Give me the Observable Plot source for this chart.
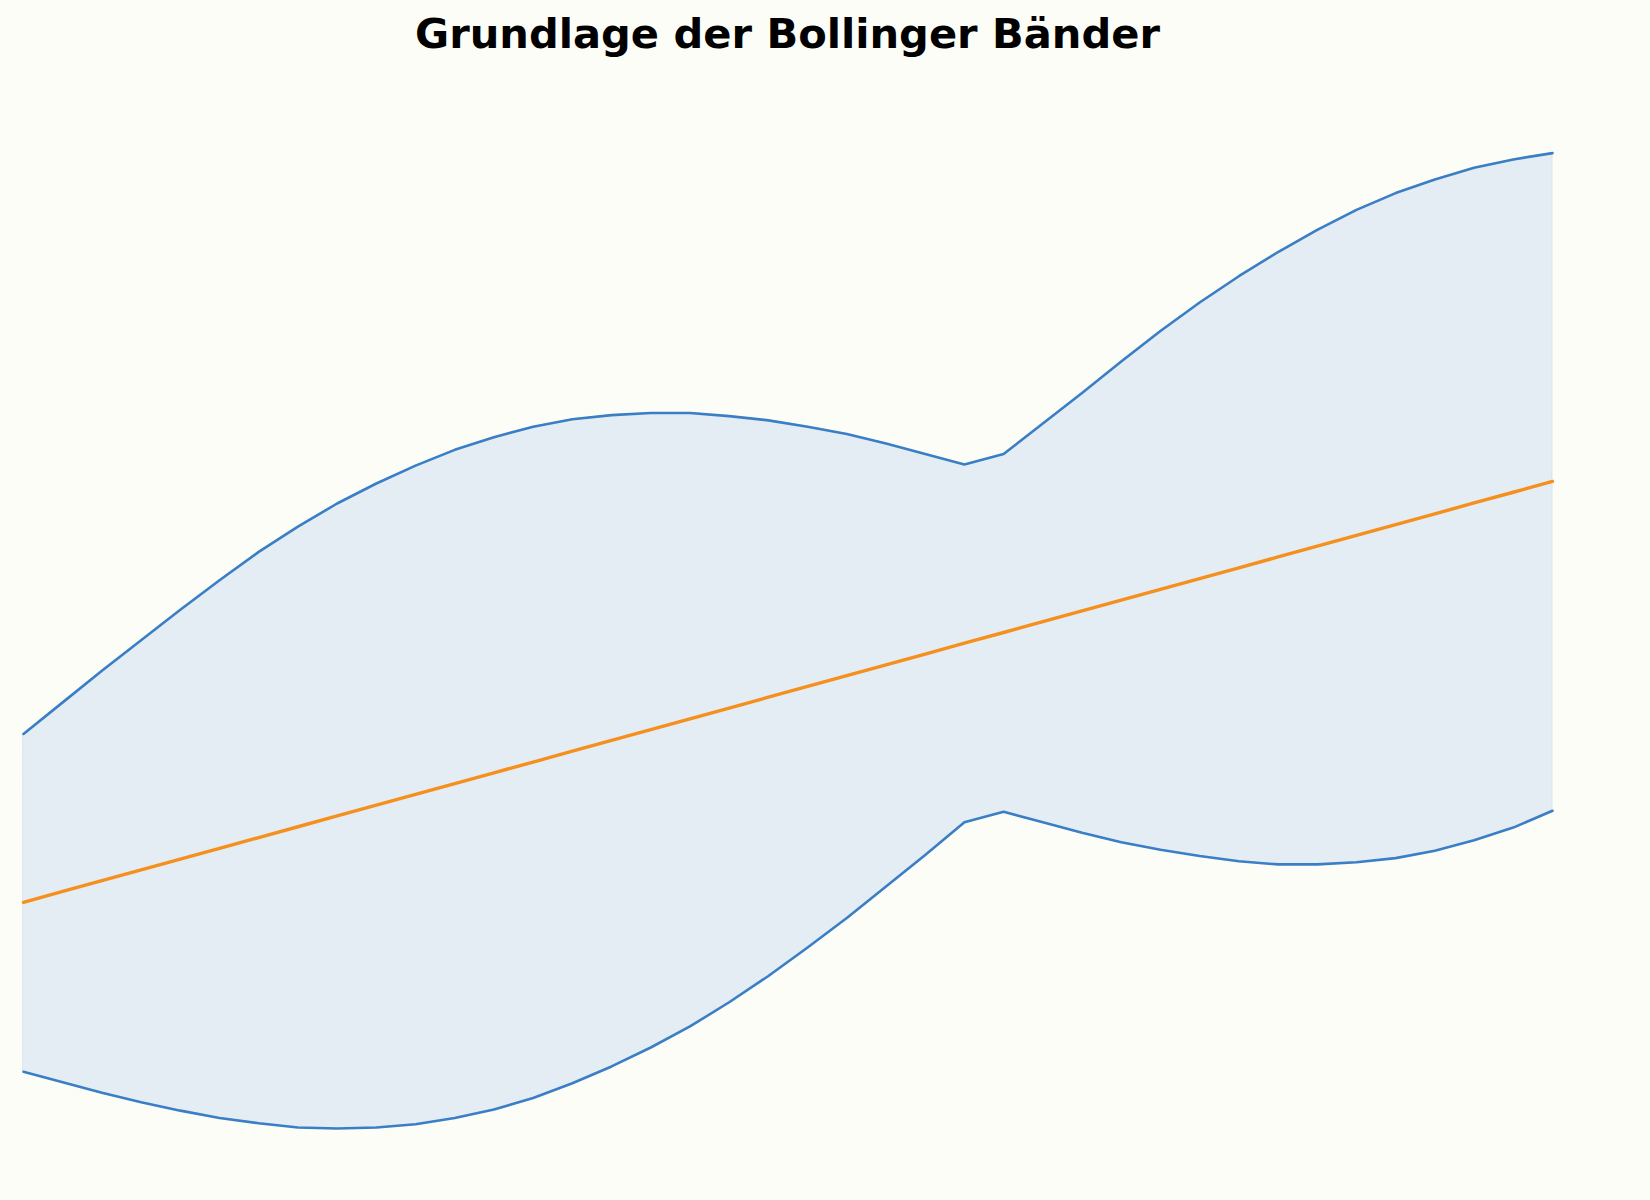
<!DOCTYPE html>
<html>
<head>
<meta charset="utf-8">
<script src="https://cdn.jsdelivr.net/npm/d3@7"></script>
<script src="https://cdn.jsdelivr.net/npm/@observablehq/plot@0.6"></script>
<style>
  html, body { margin: 0; padding: 0; background: #fdfdf8; }
  #wrap { width: 1650px; height: 1200px; background: #fdfdf8; }
  #title {
    box-sizing: border-box; height: 70px; padding-top: 13px; width: 1575px;
    text-align: center; font-family: "DejaVu Sans", sans-serif; font-weight: bold;
    font-size: 41.6px; line-height: 41px; color: #000;
  }
  #chart svg { display: block; }
</style>
</head>
<body>
<div id="wrap">
  <div id="title">Grundlage der Bollinger Bänder</div>
  <div id="chart"></div>
</div>
<script>
// Period index
const periods = d3.range(40);
// Middle band (moving average)
const middle = [100.00, 101.03, 102.05, 103.08, 104.10, 105.13, 106.15, 107.18, 108.21, 109.23,
                110.26, 111.28, 112.31, 113.33, 114.36, 115.38, 116.41, 117.44, 118.46, 119.49,
                120.51, 121.54, 122.56, 123.59, 124.62, 125.64, 126.67, 127.69, 128.72, 129.74,
                130.77, 131.79, 132.82, 133.85, 134.87, 135.90, 136.92, 137.95, 138.97, 140.00];
// Upper band
const upper = [116.0, 119.0, 122.0, 124.9, 127.8, 130.6, 133.3, 135.7, 137.9, 139.8,
               141.5, 143.0, 144.2, 145.2, 145.9, 146.3, 146.5, 146.5, 146.2, 145.8,
               145.2, 144.5, 143.6, 142.6, 141.6, 142.6, 145.5, 148.4, 151.4, 154.3,
               157.0, 159.5, 161.8, 163.9, 165.8, 167.4, 168.7, 169.8, 170.6, 171.2];
// Lower band
const lower = [83.9, 82.9, 81.9, 81.0, 80.2, 79.5, 79.0, 78.6, 78.5, 78.6,
               78.9, 79.5, 80.3, 81.4, 82.8, 84.4, 86.2, 88.2, 90.5, 93.0,
               95.7, 98.5, 101.5, 104.5, 107.6, 108.6, 107.6, 106.6, 105.7, 105.0,
               104.4, 103.9, 103.6, 103.6, 103.8, 104.2, 104.9, 105.9, 107.1, 108.7];

const rows = periods.map((t, i) => ({t, mid: middle[i], up: upper[i], lo: lower[i]}));

const chart = Plot.plot({
  width: 1650,
  height: 1130,
  marginLeft: 23,
  marginRight: 98,
  marginTop: 0,
  marginBottom: 0,
  style: {background: "#fdfdf8", overflow: "visible"},
  x: {domain: [0, 39], axis: null},
  y: {domain: [60, 180], range: [1252.7, -10.0], axis: null},
  marks: [
    Plot.areaY(rows, {x: "t", y1: "lo", y2: "up", fill: "#e5edf4", stroke: "#d3e0ee", strokeWidth: 0.8}),
    Plot.lineY(rows, {x: "t", y: "up", stroke: "#3a7fc6", strokeWidth: 2.6}),
    Plot.lineY(rows, {x: "t", y: "lo", stroke: "#3a7fc6", strokeWidth: 2.6}),
    Plot.lineY(rows, {x: "t", y: "mid", stroke: "#f5901e", strokeWidth: 3.4})
  ]
});
document.getElementById("chart").appendChild(chart);
</script>
</body>
</html>
